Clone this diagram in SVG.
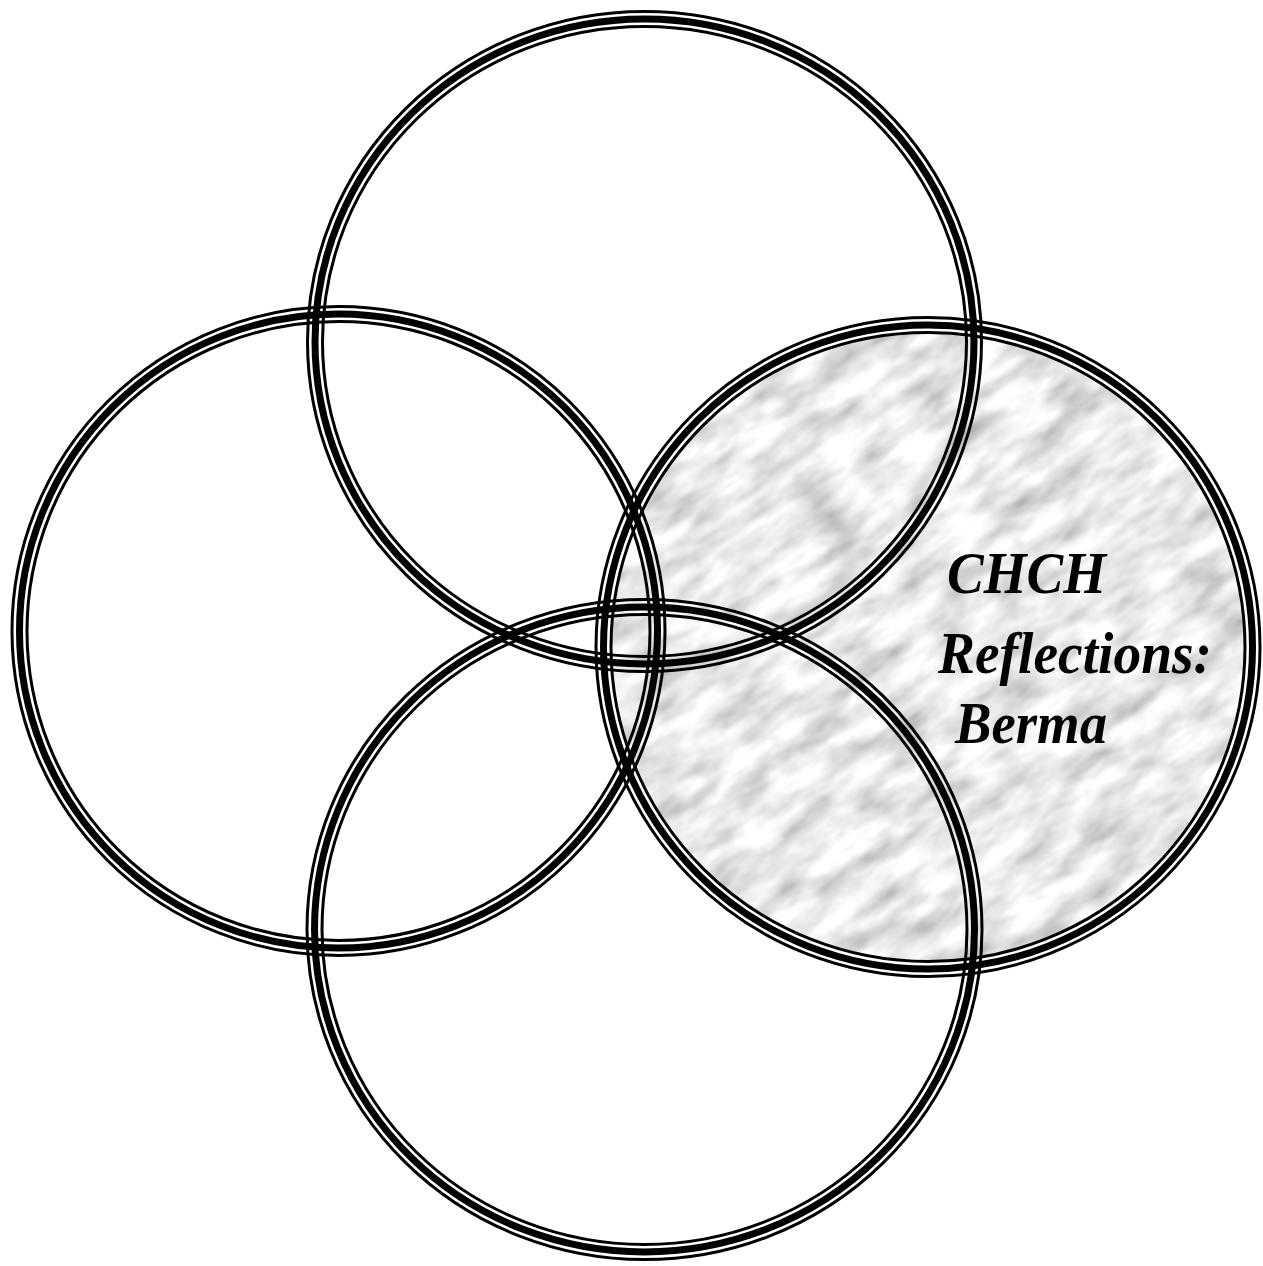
<svg xmlns="http://www.w3.org/2000/svg" width="1263" height="1266" viewBox="0 0 1263 1266">
<style>
.t{fill:none;stroke:#000;stroke-width:3}
.k{fill:none;stroke:#000;stroke-width:7}
.lbl{font-family:"Liberation Serif","Times New Roman",serif;font-style:italic;font-weight:bold;font-size:60px;fill:#000}
</style>
<defs>
<filter id="marble" x="0" y="0" width="1" height="1" filterUnits="objectBoundingBox">
<feTurbulence type="fractalNoise" baseFrequency="0.018 0.045" numOctaves="5" seed="11" result="n1"/>
<feColorMatrix in="n1" type="matrix" values="1.0 0 0 0 0.33  1.0 0 0 0 0.33  1.0 0 0 0 0.33  0 0 0 0 1" result="g1"/>
<feTurbulence type="turbulence" baseFrequency="0.008 0.03" numOctaves="4" seed="5" result="n2"/>
<feColorMatrix in="n2" type="matrix" values="0 0 0 0 0.6  0 0 0 0 0.6  0 0 0 0 0.6  -3 0 0 0 0.45" result="v"/>
<feComposite in="v" in2="g1" operator="over" result="c"/>
<feGaussianBlur in="c" stdDeviation="1"/>
</filter>
<clipPath id="mclip"><ellipse cx="928" cy="647" rx="317" ry="314"/></clipPath>
</defs>
<rect width="1263" height="1266" fill="#fff"/>
<g id="node-right">
<g clip-path="url(#mclip)">
<g transform="rotate(-35 928 647)">
<rect x="428" y="147" width="1000" height="1000" fill="#e0e0e0" filter="url(#marble)"/>
</g>
</g>
<ellipse class="t" cx="928" cy="647" rx="332" ry="329.5"/>
<ellipse class="k" cx="928" cy="647" rx="324.5" ry="322"/>
<ellipse class="t" cx="928" cy="647" rx="317" ry="314.5"/>
<text class="lbl" x="947" y="593" textLength="159" lengthAdjust="spacingAndGlyphs">CHCH</text>
<text class="lbl" x="938" y="673" textLength="274" lengthAdjust="spacingAndGlyphs">Reflections:</text>
<text class="lbl" x="955" y="743" textLength="152" lengthAdjust="spacingAndGlyphs">Berma</text>
</g>
<g id="node-top">
<ellipse class="t" cx="644.5" cy="341.5" rx="337" ry="330"/>
<ellipse class="k" cx="644.5" cy="341.5" rx="329.5" ry="322.5"/>
<ellipse class="t" cx="644.5" cy="341.5" rx="322" ry="315"/>
</g>
<g id="node-left">
<ellipse class="t" cx="338.5" cy="631" rx="326.5" ry="324.5"/>
<ellipse class="k" cx="338.5" cy="631" rx="319" ry="317"/>
<ellipse class="t" cx="338.5" cy="631" rx="311.5" ry="309.5"/>
</g>
<g id="node-bottom">
<ellipse class="t" cx="644.5" cy="929.5" rx="337.5" ry="330"/>
<ellipse class="k" cx="644.5" cy="929.5" rx="330" ry="322.5"/>
<ellipse class="t" cx="644.5" cy="929.5" rx="322.5" ry="315"/>
</g>
<g id="connectors"></g>
</svg>
